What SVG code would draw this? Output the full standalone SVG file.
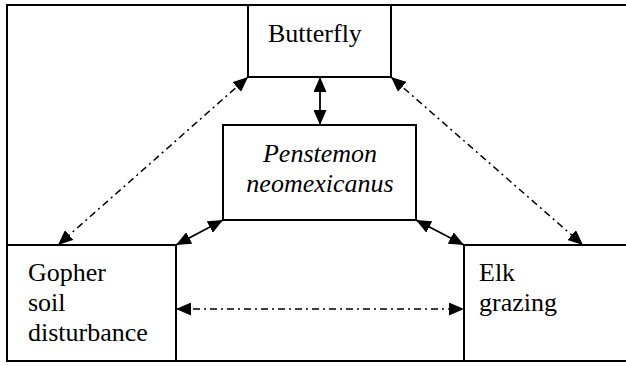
<svg xmlns="http://www.w3.org/2000/svg" width="626" height="366" viewBox="0 0 626 366">
<style>
.box{fill:#fff;stroke:#000;stroke-width:2}
.t{font-size:26px;fill:#000}
.it{font-style:italic}
.solid{stroke:#000;stroke-width:1.8;fill:none;marker-start:url(#ah);marker-end:url(#ah)}
.dd{stroke:#000;stroke-width:1.5;fill:none;stroke-dasharray:7 4 2 4;marker-start:url(#ah);marker-end:url(#ah)}
</style>
<defs>
<marker id="ah" markerUnits="userSpaceOnUse" markerWidth="15" markerHeight="13" refX="15" refY="6.5" orient="auto-start-reverse" viewBox="0 0 15 13">
<path d="M0,0 L15,6.5 L0,13 z" fill="#000"/>
</marker>
</defs>
<rect x="0" y="0" width="626" height="366" fill="#fff"/>
<rect id="frame" x="7" y="5" width="630" height="356" fill="none" stroke="#000" stroke-width="2"/>
<g id="butterfly">
<rect class="box" x="248" y="5" width="143" height="72"/>
<text class="t" x="268" y="42" font-family="Liberation Serif, serif">Butterfly</text>
</g>
<g id="penstemon">
<rect class="box" x="223" y="125" width="193" height="95"/>
<text class="t it" x="320" y="162" text-anchor="middle" font-family="Liberation Serif, serif">Penstemon</text>
<text class="t it" x="320" y="192" text-anchor="middle" font-family="Liberation Serif, serif">neomexicanus</text>
</g>
<g id="gopher">
<rect class="box" x="7" y="245" width="169" height="116"/>
<text class="t" x="28" y="281" font-family="Liberation Serif, serif">Gopher</text>
<text class="t" x="28" y="311" font-family="Liberation Serif, serif">soil</text>
<text class="t" x="28" y="341" font-family="Liberation Serif, serif">disturbance</text>
</g>
<g id="elk">
<rect class="box" x="464" y="245" width="175" height="116"/>
<text class="t" x="479" y="281" font-family="Liberation Serif, serif">Elk</text>
<text class="t" x="479" y="311" font-family="Liberation Serif, serif">grazing</text>
</g>
<g id="connectors">
<line class="solid" x1="320" y1="77" x2="320" y2="125"/>
<line class="solid" x1="223" y1="220" x2="176" y2="245"/>
<line class="solid" x1="416" y1="220" x2="464" y2="245"/>
<line class="dd" x1="248" y1="77" x2="58" y2="245"/>
<line class="dd" x1="391" y1="77" x2="583" y2="245"/>
<line class="dd" x1="176" y1="309" x2="464" y2="309"/>
</g>
</svg>
